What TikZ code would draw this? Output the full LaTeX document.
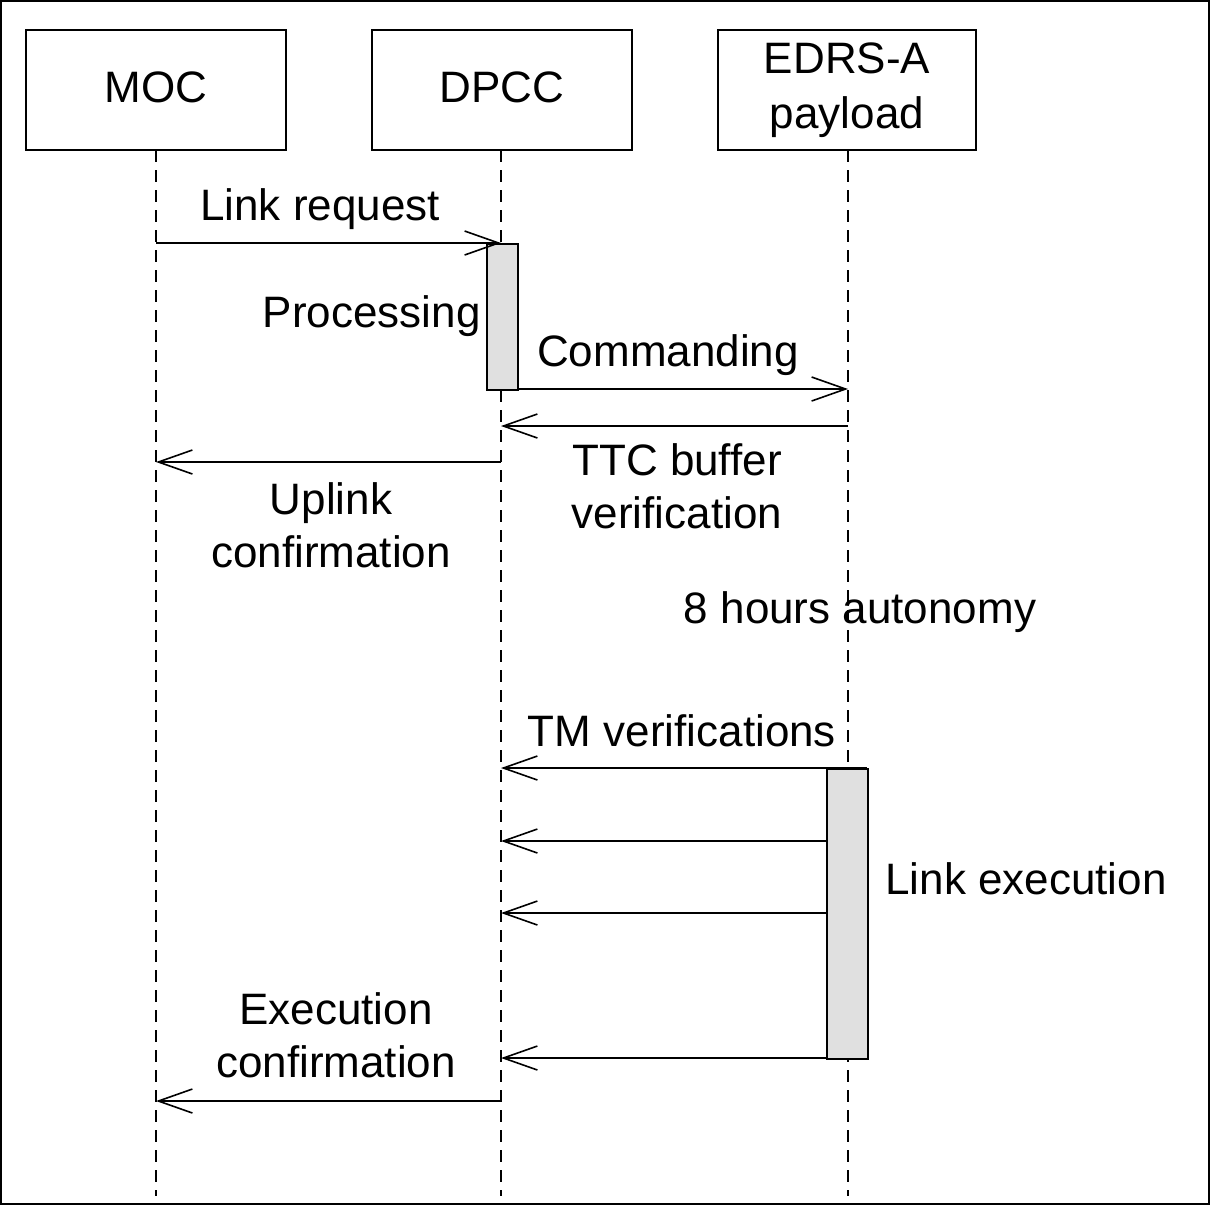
\documentclass[tikz,border=0pt]{standalone}
\usepackage{fontspec}
\setmainfont{Liberation Sans}
\usetikzlibrary{arrows.meta}
\begin{document}
\begin{tikzpicture}[x=0.5pt,y=-0.5pt,
  part/.style={draw,line width=1pt,minimum width=130pt,minimum height=60pt,inner sep=0pt,align=center,font=\fontsize{22}{26.5}\selectfont},
  lbl/.style={inner sep=0pt,align=center,font=\fontsize{22}{26.5}\selectfont},
  life/.style={line width=0.8pt,dash pattern=on 6pt off 4pt},
  msg/.style={line width=1pt,-{Straight Barb[length=17pt,width=12pt,line width=0.8pt]}},
  act/.style={draw,line width=1pt,fill=black!12,inner sep=0pt}]
\useasboundingbox (0,0) rectangle (1213,1207);
\draw[line width=1pt] (1,1) rectangle (1209,1204);
% participants
\node[part] (moc) at (156,90) {\raisebox{3pt}{MOC}};
\node[part] (dpcc) at (502,90) {\raisebox{3pt}{DPCC}};
\node[part,minimum width=129pt] (edrs) at (847,90) {\raisebox{1pt}{EDRS-A}\\payload};
% lifeline ends
\coordinate (mocE) at (156,1196);
\coordinate (dpccE) at (501,1196);
\coordinate (edrsE) at (848,1196);
\draw[life] (156,150) -- (mocE);
\draw[life] (501,150) -- (dpccE);
\draw[life] (848,150) -- (edrsE);
% activation bars
\node[act,minimum width=15.5pt,minimum height=73pt,anchor=north west] (actA) at (486,243) {};
\node[act,minimum width=20.5pt,minimum height=145pt,anchor=north west] (actB) at (826,768) {};
% message coordinates
\coordinate (m1a) at (156,243); \coordinate (m1b) at (501,243);
\coordinate (m2a) at (517,389); \coordinate (m2b) at (848,389);
\coordinate (m3a) at (848,426); \coordinate (m3b) at (501,426);
\coordinate (m4a) at (501,462); \coordinate (m4b) at (156,462);
\coordinate (m5a) at (867,768); \coordinate (m5b) at (501,768);
\coordinate (m6a) at (826,841); \coordinate (m6b) at (501,841);
\coordinate (m7a) at (826,913); \coordinate (m7b) at (501,913);
\coordinate (m8a) at (826,1058); \coordinate (m8b) at (501,1058);
\coordinate (m9a) at (501,1101); \coordinate (m9b) at (156,1101);
\draw[msg] (m1a) -- (m1b);
\draw[msg] (m2a) -- (m2b);
\draw[msg] (m3a) -- (m3b);
\draw[msg] (m4a) -- (m4b);
\draw[msg] (m5a) -- (m5b);
\draw[msg] (m6a) -- (m6b);
\draw[msg] (m7a) -- (m7b);
\draw[msg] (m8a) -- (m8b);
\draw[msg] (m9a) -- (m9b);
% labels
\node[lbl] (t1) at (320,209) {Link request};
\node[lbl,anchor=east] (t2) at (481,316) {Processing};
\node[lbl] (t3) at (668,355) {Commanding};
\node[lbl] (t4) at (677,486) {TTC buffer\\verification};
\node[lbl] (t5) at (331,525) {Uplink\\confirmation};
\node[lbl] (t6) at (860,612) {8 hours autonomy};
\node[lbl] (t7) at (682,731) {TM verifications};
\node[lbl] (t8) at (1026,879) {Link execution};
\node[lbl] (t9) at (336,1035) {Execution\\confirmation};
\end{tikzpicture}
\end{document}
